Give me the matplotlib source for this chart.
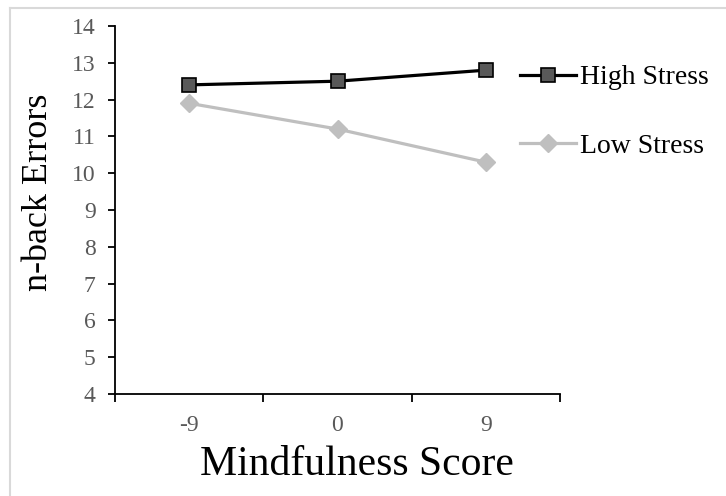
import matplotlib
matplotlib.use("Agg")
import matplotlib.pyplot as plt
from matplotlib.lines import Line2D

categories = ["-9", "0", "9"]
high_stress = [12.4, 12.5, 12.8]
low_stress = [11.9, 11.2, 10.3]
series_labels = ["High Stress", "Low Stress"]
y_ticks = list(range(4, 15))

plt.rcParams['font.family'] = ['Liberation Serif', 'DejaVu Serif']

fig = plt.figure(figsize=(7.26, 4.96), dpi=100)
ax = fig.add_axes([115/726, 1-394/496, (560-115)/726, (394-26)/496])

x = list(range(len(categories)))
ax.plot(x, high_stress, color='black', lw=2.3, marker='s', ms=10,
        mfc='#595959', mec='black', mew=1.2, label=series_labels[0], zorder=3)
ax.plot(x, low_stress, color='#bfbfbf', lw=2.3, marker='D', ms=9,
        mfc='#bfbfbf', mec='#bfbfbf', label=series_labels[1], zorder=2)

ax.set_xlim(-0.5, len(categories) - 0.5)
ax.set_ylim(4, 14)
ax.set_yticks(y_ticks)
ax.set_xticks(x)
ax.set_xticklabels(categories)
ax.set_xticks([i - 0.5 for i in range(len(categories) + 1)], minor=True)

for s in ['top', 'right']:
    ax.spines[s].set_visible(False)
for s in ['left', 'bottom']:
    ax.spines[s].set_linewidth(1.3)
    ax.spines[s].set_color('black')

ax.tick_params(axis='y', direction='out', length=5, width=1.3, labelsize=17,
               labelcolor='#595959', pad=9)
ax.tick_params(axis='x', which='major', length=0, labelsize=17,
               labelcolor='#595959', pad=15)
ax.tick_params(axis='x', which='minor', direction='out', length=6, width=1.3)

fig.text(39/726, 1-192/496, "n-back Errors", fontsize=26, color='black',
         ha='center', va='center', rotation=90)
fig.text(357/726, 1-465/496, "Mindfulness Score", fontsize=30, color='black',
         ha='center', va='center')

leg = ax.legend(loc='upper left', bbox_to_anchor=(520/726, 1-65/496),
                bbox_transform=fig.transFigure, frameon=False, fontsize=20,
                handlelength=2.0, handletextpad=0.15, labelspacing=1.55,
                borderpad=0, borderaxespad=0)

# light grey frame (left and top edges visible)
fig.add_artist(Line2D([10/726, 10/726], [0, 1-8/496], transform=fig.transFigure,
                      color='#d9d9d9', lw=1.5))
fig.add_artist(Line2D([10/726, 1], [1-8/496, 1-8/496], transform=fig.transFigure,
                      color='#d9d9d9', lw=1.5))

fig.savefig("out.png", dpi=100)
